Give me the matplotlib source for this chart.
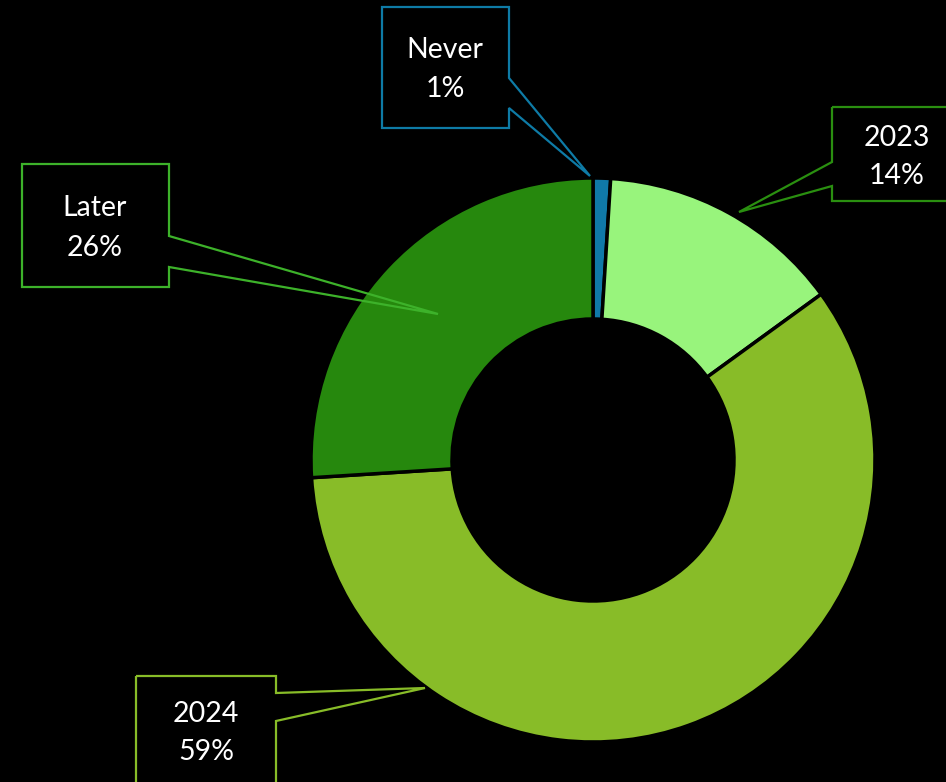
import matplotlib
matplotlib.use("Agg")
import matplotlib.pyplot as plt
from matplotlib.patches import Polygon

# ---- data ----
labels = ["Never", "2023", "2024", "Later"]
values = [1, 14, 59, 26]
slice_colors = ["#1079A8", "#98F47C", "#88BC28", "#26880D"]
border_colors = ["#0E7BA6", "#2A8F10", "#88BC28", "#3DB22A"]

W, H = 946, 782
fig = plt.figure(figsize=(W / 100, H / 100), dpi=100, facecolor="black")
ax = fig.add_axes([0, 0, 1, 1])
ax.set_facecolor("black")

def Y(y):
    return H - y

cx, cy, R = 593, 460, 282
ax.pie(values, colors=slice_colors, startangle=90, counterclock=False,
       center=(cx, Y(cy)), radius=R,
       wedgeprops=dict(width=R * 0.5, edgecolor="black", linewidth=2.5),
       frame=True)
ax.set_xlim(0, W)
ax.set_ylim(0, H)
ax.set_aspect("equal")
ax.axis("off")

# callout shapes (pixel coords, y from top)
callouts = {
    "Never": [(382, 7), (509, 7), (509, 78), (590, 176), (509, 108), (509, 128), (382, 128)],
    "2023": [(832, 107), (960, 107), (960, 201), (832, 201), (832, 186), (739, 212), (832, 162)],
    "2024": [(136, 676), (276, 676), (276, 693), (425, 688), (276, 721), (276, 800), (136, 800)],
    "Later": [(22, 164), (169, 164), (169, 236), (438, 314), (169, 267), (169, 287), (22, 287)],
}
text_pos = {
    "Never": (445, 50, 89),
    "2023": (897, 138, 176),
    "2024": (206, 714, 752),
    "Later": (95, 208, 248),
}

for lab, val, bc in zip(labels, values, border_colors):
    pts = [(x, Y(y)) for x, y in callouts[lab]]
    ax.add_patch(Polygon(pts, closed=True, fill=False, edgecolor=bc,
                         linewidth=1.6, joinstyle="miter", zorder=5))
    tx, ty1, ty2 = text_pos[lab]
    ax.text(tx, Y(ty1), lab, color="white", fontsize=20.5, family="Lato",
            ha="center", va="center", zorder=6)
    ax.text(tx, Y(ty2), f"{val}%", color="white", fontsize=20.5, family="Lato",
            ha="center", va="center", zorder=6)

fig.savefig("out.png", dpi=100, facecolor="black")
